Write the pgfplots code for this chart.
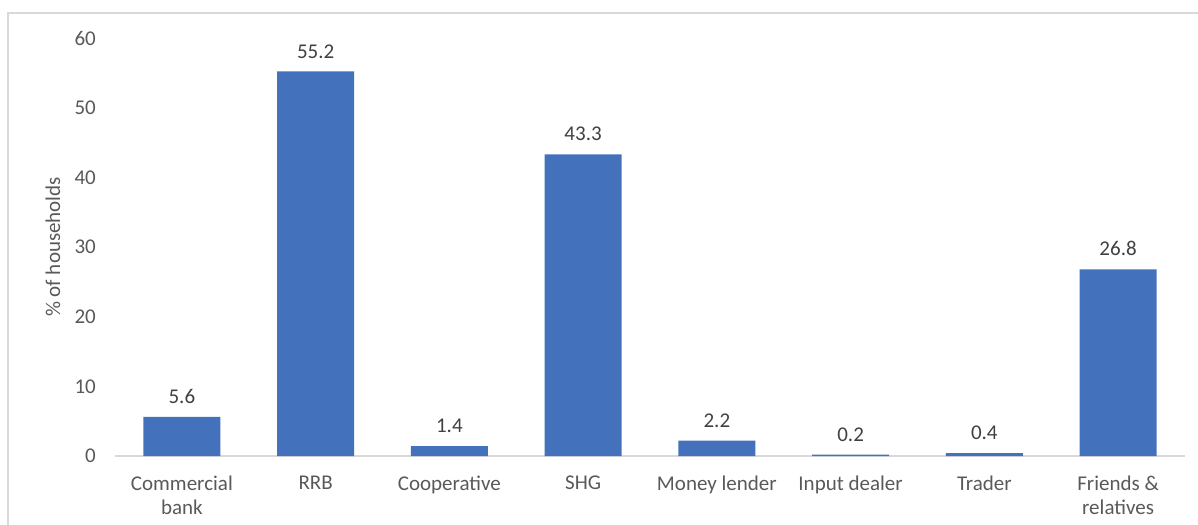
\documentclass[border=0pt]{standalone}
\usepackage{pgfplots}
\pgfplotsset{compat=1.18}
\usepackage{fontspec}
\setmainfont{Carlito}
\definecolor{barblue}{HTML}{4371BC}
\definecolor{txtgray}{HTML}{595959}
\definecolor{lblgray}{HTML}{404040}
\definecolor{axgray}{HTML}{D9D9D9}
\begin{document}
\fontsize{21bp}{25bp}\selectfont
\begin{tikzpicture}
\useasboundingbox (-115bp,-69bp) rectangle (1083bp,456bp);
\draw[axgray, line width=1.5bp] (-107bp,-80bp) -- (-107bp,443bp) -- (1090bp,443bp);
\begin{axis}[
  at={(0,0)}, anchor=south west,
  scale only axis, width=1070bp, height=418bp,
  xmin=-0.5, xmax=7.5, ymin=0, ymax=60,
  ytick={0,10,...,60},
  xtick={0,...,7},
  xticklabels={{Commercial\\bank},RRB,Cooperative,SHG,{Money lender},{Input dealer},Trader,{Friends \&\\relatives}},
  xticklabel style={align=center, text=txtgray, font=\fontsize{21bp}{24bp}\selectfont, yshift=-13bp},
  yticklabel style={text=txtgray, font=\fontsize{21bp}{25bp}\selectfont, xshift=-12bp},
  /pgf/number format/assume math mode=true,
  axis lines*=left,
  y axis line style={draw=none},
  x axis line style={axgray, line width=1.5bp, -},
  major tick length=0pt,
  ylabel={\% of households},
  ylabel style={text=txtgray, font=\fontsize{21bp}{25bp}\selectfont},
  every axis ylabel/.append style={at={(ticklabel cs:0.5)}, anchor=south, xshift=-4bp},
  ybar, bar width=77bp,
  nodes near coords,
  nodes near coords style={text=lblgray, font=\fontsize{21bp}{25bp}\selectfont, yshift=6bp},
  point meta=explicit symbolic,
  clip=false,
]
\addplot[fill=barblue, draw=none] coordinates {
 (0,5.6) [5.6] (1,55.2) [55.2] (2,1.4) [1.4] (3,43.3) [43.3]
 (4,2.2) [2.2] (5,0.2) [0.2] (6,0.4) [0.4] (7,26.8) [26.8]};
\end{axis}
\end{tikzpicture}
\end{document}
